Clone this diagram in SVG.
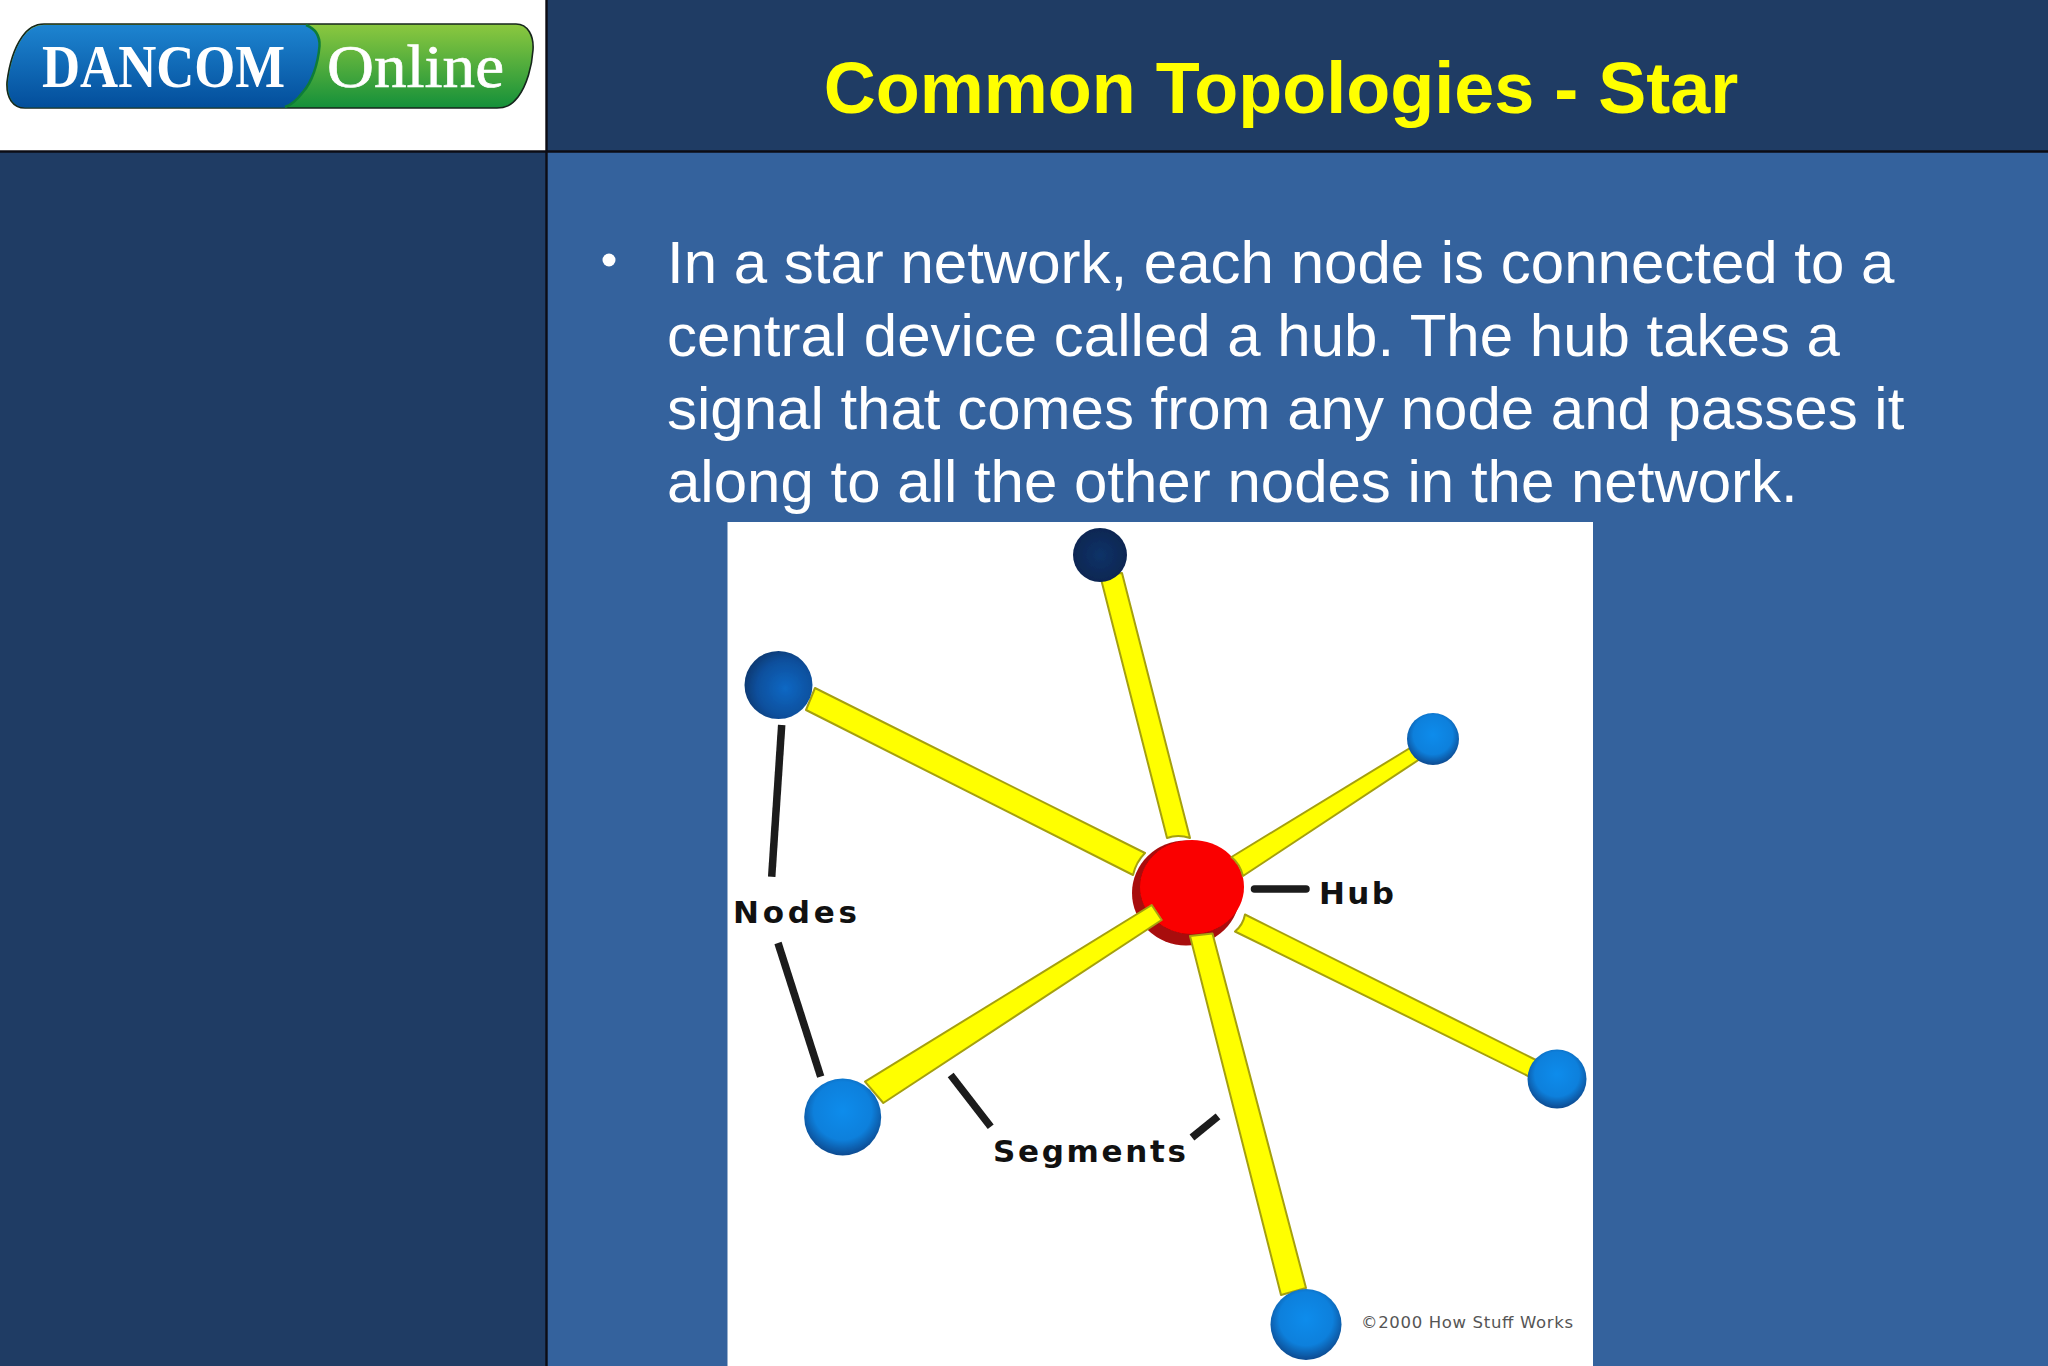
<svg xmlns="http://www.w3.org/2000/svg" width="2048" height="1366" viewBox="0 0 2048 1366">
  <style>
    .title{font:bold 72px "Liberation Sans",Arial,sans-serif;fill:#ffff00}
    .body{font:60px "Liberation Sans",Arial,sans-serif;fill:#ffffff}
    .lbl{font:bold 31px "DejaVu Sans",Verdana,sans-serif;fill:#111111}
    .seg{fill:#ffff00;stroke:#a5a010;stroke-width:2;stroke-linejoin:round}
    .lead{stroke:#1a1a1a;stroke-width:7.5;fill:none}
  </style>
  <defs>
    <linearGradient id="gb" x1="0" y1="0" x2="0" y2="1"><stop offset="0" stop-color="#1d84d0"/><stop offset="1" stop-color="#034e9b"/></linearGradient>
    <linearGradient id="gg" x1="0" y1="0" x2="0" y2="1"><stop offset="0" stop-color="#8cc83f"/><stop offset="1" stop-color="#14903a"/></linearGradient>
    <radialGradient id="nBright" cx="0.5" cy="0.42" r="0.58"><stop offset="0" stop-color="#0a8cec"/><stop offset="0.65" stop-color="#0a80dc"/><stop offset="1" stop-color="#0a4a90"/></radialGradient>
    <radialGradient id="nMid" cx="0.6" cy="0.55" r="0.6"><stop offset="0" stop-color="#0c68c4"/><stop offset="0.7" stop-color="#0b4f9c"/><stop offset="1" stop-color="#0a3a74"/></radialGradient>
    <radialGradient id="nDark" cx="0.5" cy="0.5" r="0.55"><stop offset="0" stop-color="#0a3268"/><stop offset="1" stop-color="#0a2650"/></radialGradient>
    <filter id="soft" x="-5%" y="-5%" width="110%" height="110%"><feGaussianBlur stdDeviation="0.7"/></filter>
  </defs>

  <g id="background">
    <rect width="2048" height="1366" fill="#34629d"/>
    <rect x="546" width="1502" height="152" fill="#1f3c64"/>
    <rect y="152" width="546" height="1214" fill="#1f3c64"/>
    <rect width="546" height="152" fill="#ffffff"/>
    <path d="M546.5 0V1366M0 151.5H2048" stroke="#0c0c14" stroke-width="2.4" fill="none"/>
  </g>

  <g id="logo">
    <path d="M44 24H516C528 24 534 36 533 50C532 66 527 85 518 97C511 106 505 108 497 108H25C13 108 6 98 7 82C9 66 13 50 22 37C28 28 36 24 44 24Z" fill="url(#gg)" stroke="#16261c" stroke-width="1.6"/>
    <path d="M44 25H306C316 29 320 36 319.5 46C318 64 312 82 303 92C297 100 291 105 285 107.400H25C14 107.400 7 98 8 82C10 66 14 50 23 37C29 29 36 25 44 25Z" fill="url(#gb)"/>
    <path d="M306 25C316 29 320 36 319.500 46C318 64 312 82 303 92C297 100 291 105 285 107" fill="none" stroke="#0e7d38" stroke-width="2.500"/>
    <text x="42" y="86.500" font-family="'Liberation Serif',serif" font-weight="bold" font-size="62" fill="#ffffff" textLength="243" lengthAdjust="spacingAndGlyphs">DANCOM</text>
    <text x="327" y="87" font-family="'Liberation Serif',serif" font-size="62" fill="#ffffff" stroke="#ffffff" stroke-width="0.7" textLength="177" lengthAdjust="spacingAndGlyphs">Online</text>
  </g>

  <text id="title" class="title" x="1281" y="113" text-anchor="middle">Common Topologies - Star</text>

  <g id="bullets">
    <circle cx="609" cy="260" r="6.500" fill="#ffffff"/>
    <text class="body" x="667" y="283">In a star network, each node is connected to a</text>
    <text class="body" x="667" y="356">central device called a hub. The hub takes a</text>
    <text class="body" x="667" y="429">signal that comes from any node and passes it</text>
    <text class="body" x="667" y="502">along to all the other nodes in the network.</text>
  </g>

  <rect id="picture" x="727.500" y="522" width="865.500" height="844" fill="#ffffff"/>

  <g filter="url(#soft)">
    <g id="node-hub">
      <ellipse cx="1186" cy="893" rx="54" ry="52.500" fill="#a80a0a"/>
      <ellipse cx="1192" cy="887" rx="52" ry="47" fill="#fa0000"/>
    </g>
    <g id="connectors">
      <path class="seg" d="M1100 575L1122 573L1190 838Q1178 834 1167 838Z"/>
      <path class="seg" d="M815 688L1145 853Q1136 862 1133 875L806 710Z"/>
      <path class="seg" d="M1419 742.500L1429 753L1243 876Q1240 864 1231.500 857Z"/>
      <path class="seg" d="M1245 914.500L1538 1061L1530 1077L1235 931.500Q1243 925 1245 914.500Z"/>
      <path class="seg" d="M1190 936L1212.500 933.500L1306 1288L1281 1295Z"/>
      <path class="seg" d="M865 1081.700L1151.700 905L1161.700 920L883.300 1103Z"/>
      <path class="lead" d="M781.700 725L771.700 876.700"/>
      <path class="lead" d="M778 943L820.700 1076.700"/>
      <path class="lead" d="M950.700 1075L990.700 1126.700"/>
      <path class="lead" d="M1218 1116.300L1192 1137.500"/>
      <path class="lead" d="M1254.500 889H1306" stroke-linecap="round"/>
    </g>
    <g id="node-top"><circle cx="1100" cy="555" r="27" fill="url(#nDark)"/></g>
    <g id="node-left"><circle cx="778.500" cy="685" r="34" fill="url(#nMid)"/></g>
    <g id="node-right-top"><circle cx="1433" cy="739" r="26" fill="url(#nBright)"/></g>
    <g id="node-right"><circle cx="1557" cy="1079" r="29.500" fill="url(#nBright)"/></g>
    <g id="node-bottom"><circle cx="1306" cy="1324.500" r="35.500" fill="url(#nBright)"/></g>
    <g id="node-lower-left"><circle cx="842.700" cy="1117" r="38.500" fill="url(#nBright)"/></g>
  </g>

  <g id="labels">
    <text class="lbl" x="733" y="923" textLength="124">Nodes</text>
    <text class="lbl" x="1319" y="904" textLength="75">Hub</text>
    <text class="lbl" x="993" y="1161.500" textLength="193">Segments</text>
    <text x="1361" y="1328" font-family="'DejaVu Sans',Verdana,sans-serif" font-size="16.500" fill="#555555" textLength="212">©2000 How Stuff Works</text>
  </g>
</svg>
